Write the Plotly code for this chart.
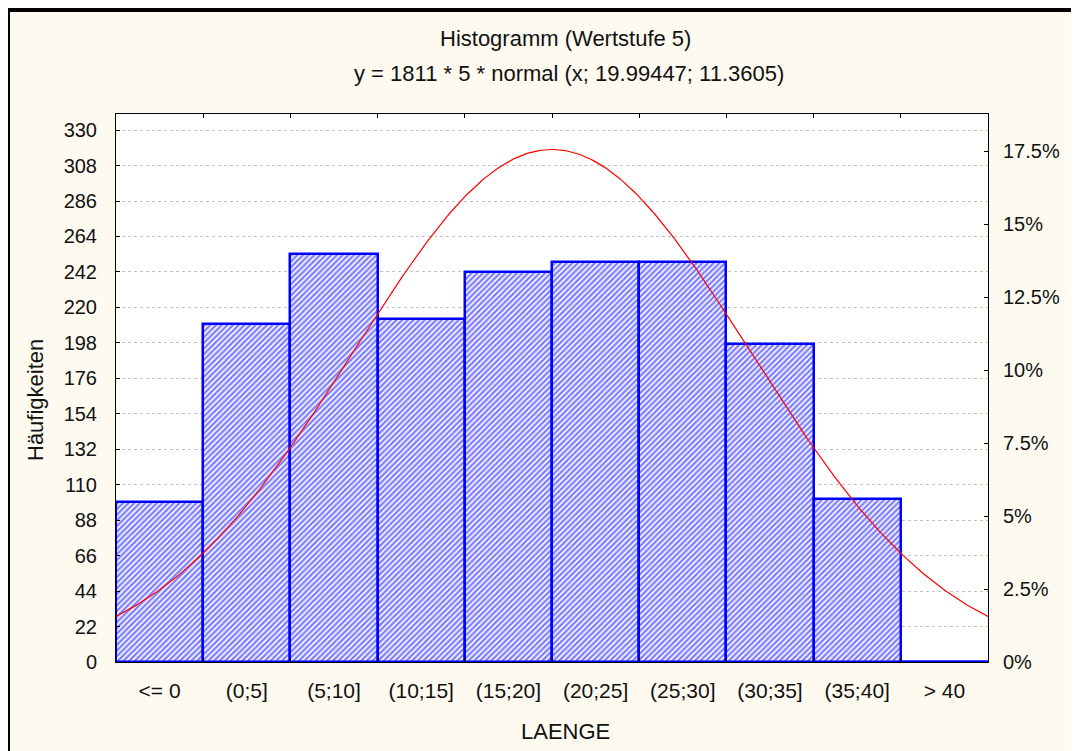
import numpy as np
import plotly.graph_objects as go

# ---- data ----
categories = ["<= 0", "(0;5]", "(5;10]", "(10;15]", "(15;20]", "(20;25]",
              "(25;30]", "(30;35]", "(35;40]", "> 40"]
bin_left = [-5, 0, 5, 10, 15, 20, 25, 30, 35, 40]
bin_width = 5
counts = [99, 210, 253, 213, 242, 248, 248, 197, 101, 0]

# fitted normal curve parameters (as printed in the chart title)
N_total = 1811
fit_mean = 19.99447
fit_sd = 11.3605

left_ticks = list(range(0, 331, 22))
right_ticks = [0, 2.5, 5, 7.5, 10, 12.5, 15, 17.5]
y_max = 340

# ---- derived ----
centers = [l + bin_width / 2 for l in bin_left]
x_lo = bin_left[0]
x_hi = bin_left[-1] + bin_width
xs = np.linspace(x_lo, x_hi, 401)
curve = N_total * bin_width * np.exp(-0.5 * ((xs - fit_mean) / fit_sd) ** 2) / (fit_sd * np.sqrt(2 * np.pi))
percents = [c / N_total * 100 for c in counts]

# page has an 8px body margin, so the figure starts at page (8, 8)
OFF = 8
W, H = 1079 - OFF, 751 - OFF
ML, MT = 116 - OFF, 114 - OFF
PW, PH = 872, 548
MR = W - ML - PW
MB = H - MT - PH

def px(x):  # page x -> paper
    return (x - OFF - ML) / PW

def py(y):  # page y -> paper
    return (MT + PH - (y - OFF)) / PH

FONT = "Liberation Sans, Arial, sans-serif"
TXT = "#111111"
BLUE = "#0000FF"
CREAM = "#FFFAF0"

fig = go.Figure()

fig.add_trace(go.Bar(
    x=centers, y=counts, width=bin_width,
    marker=dict(color="white",
                pattern=dict(shape="/", fgcolor=BLUE, bgcolor="white", size=4, solidity=0.6),
                line=dict(color=BLUE, width=2.5)),
    xaxis="x", yaxis="y", showlegend=False, hoverinfo="skip",
))

# zero-height bars drawn as a flat line along the baseline
for l, c in zip(bin_left, counts):
    if c == 0:
        fig.add_trace(go.Scatter(
            x=[l, l + bin_width], y=[c, c], mode="lines",
            line=dict(color=BLUE, width=3), cliponaxis=False,
            xaxis="x", yaxis="y", showlegend=False, hoverinfo="skip",
        ))

# percent axis carrier (invisible)
fig.add_trace(go.Scatter(
    x=centers, y=percents, mode="markers", marker=dict(opacity=0),
    xaxis="x", yaxis="y2", showlegend=False, hoverinfo="skip",
))

# normal curve
fig.add_trace(go.Scatter(
    x=xs, y=curve, mode="lines", line=dict(color="#FF0000", width=1.2),
    xaxis="x2", yaxis="y", showlegend=False, hoverinfo="skip",
))

tickfont = dict(family=FONT, size=20, color=TXT)

fig.update_layout(
    width=W, height=H,
    margin=dict(l=ML, r=MR, t=MT, b=MB),
    paper_bgcolor=CREAM, plot_bgcolor="white",
    bargap=0,
    showlegend=False,
    xaxis=dict(range=[x_lo, x_hi], tickvals=centers, ticktext=categories,
               ticks="", showline=True, linecolor="black", linewidth=1, mirror=True,
               showgrid=False, zeroline=False, tickfont=dict(family=FONT, size=21, color=TXT),
               ticklabelstandoff=10),
    xaxis2=dict(range=[x_lo, x_hi], overlaying="x", anchor="y", side="bottom",
                tickvals=bin_left[1:], ticks="inside", ticklen=4, tickcolor="black",
                showline=True, linecolor="black", mirror="ticks",
                showticklabels=False, showgrid=False, zeroline=False),
    yaxis=dict(range=[0, y_max], tickvals=left_ticks, ticks="inside", ticklen=4,
               tickcolor="black", showline=True, linecolor="black", linewidth=1,
               showgrid=True, gridcolor="#C4C4C4", griddash="dot", gridwidth=1,
               zeroline=False, tickfont=tickfont, ticklabelstandoff=14),
    yaxis2=dict(range=[0, y_max / N_total * 100], overlaying="y", side="right", anchor="x",
                tickvals=right_ticks, ticktext=[f"{v:g}%" for v in right_ticks],
                ticks="inside", ticklen=4, tickcolor="black", showline=True,
                linecolor="black", showgrid=False, zeroline=False, tickfont=tickfont,
                ticklabelstandoff=10),
)

annos = [
    dict(text="Histogramm (Wertstufe 5)", x=px(565), y=py(38)),
    dict(text=f"y = {N_total} * {bin_width} * normal (x; {fit_mean}; {fit_sd})", x=px(569), y=py(73)),
    dict(text="LAENGE", x=px(565), y=py(731)),
]
for a in annos:
    fig.add_annotation(xref="paper", yref="paper", showarrow=False,
                       xanchor="center", yanchor="middle",
                       font=dict(family=FONT, size=22, color=TXT), **a)
fig.add_annotation(text="Häufigkeiten", xref="paper", yref="paper", x=px(35), y=py(400),
                   textangle=-90, showarrow=False, xanchor="center", yanchor="middle",
                   font=dict(family=FONT, size=22, color=TXT))

# outer frame: black left/top border (body margin provides the white edge)
shapes = [
    dict(x0=px(8), x1=px(1085), y0=py(8), y1=py(12), fillcolor="black"),
    dict(x0=px(8), x1=px(10), y0=py(8), y1=py(760), fillcolor="black"),
]
for s in shapes:
    fig.add_shape(type="rect", xref="paper", yref="paper", line=dict(width=0),
                  layer="above", **s)

fig.write_html("out.html")
